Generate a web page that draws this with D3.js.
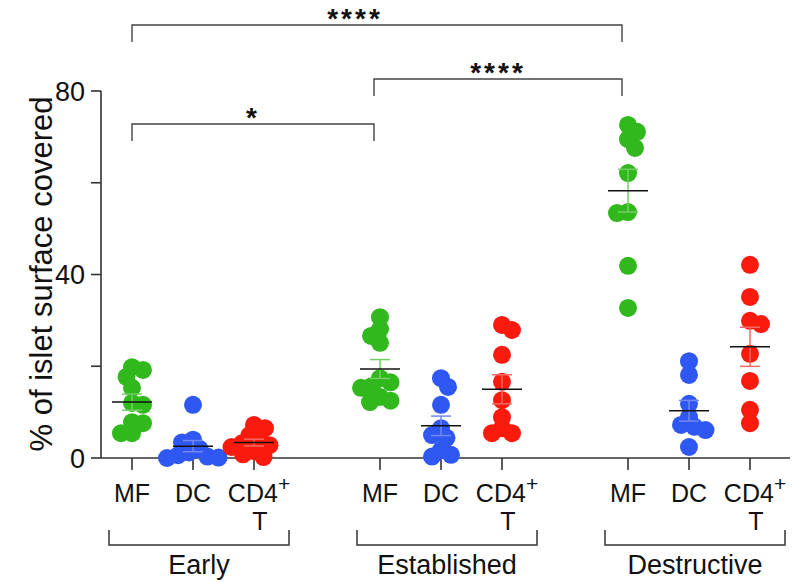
<!DOCTYPE html>
<html><head><meta charset="utf-8">
<script src="https://cdn.jsdelivr.net/npm/d3@7"></script>
<style>body{margin:0;background:#fff}svg{display:block;font-family:"Liberation Sans",Arial,Helvetica,sans-serif}</style>
</head><body><svg id="c" width="796" height="582"></svg>
<script>
// ---- data ----
const groups = ["Early", "Established", "Destructive"];
const cellTypes = ["MF", "DC", "CD4"];
const earlyMF = [19.8, 19.2, 17.7, 15.3, 12.0, 11.6, 7.8, 7.6, 5.4, 5.4];
const earlyDC = [11.6, 4.0, 3.4, 2.0, 1.2, 0.6, 0.3, 0.1, 0.0];
const earlyCD4 = [7.2, 6.5, 5.0, 4.0, 3.2, 2.8, 2.4, 1.5, 0.8, 0.2];
const establishedMF = [30.7, 28.1, 26.6, 25.1, 17.4, 16.5, 15.7, 15.3, 13.3, 12.5, 12.2];
const establishedDC = [17.4, 15.5, 11.6, 6.5, 5.0, 4.4, 1.7, 0.7, 0.3];
const establishedCD4 = [29.0, 27.9, 22.5, 16.6, 12.6, 8.9, 6.5, 5.4, 5.4];
const destructiveMF = [72.6, 71.1, 69.5, 67.6, 62.1, 53.6, 53.4, 41.9, 32.7];
const destructiveDC = [21.1, 18.1, 11.8, 8.9, 7.2, 6.8, 6.1, 2.4];
const destructiveCD4 = [42.1, 35.1, 29.9, 29.2, 22.7, 16.8, 10.5, 7.6];
const yTicks = [0, 20, 40, 60, 80];
const yTickLabels = ["0", "", "40", "", "80"];
const yLabel = "% of islet surface covered";
const comparisons = [
  {from: 0, to: 1, label: "*"},
  {from: 1, to: 2, label: "****"},
  {from: 0, to: 2, label: "****"}
];

const seriesByGroup = [
  [earlyMF, earlyDC, earlyCD4],
  [establishedMF, establishedDC, establishedCD4],
  [destructiveMF, destructiveDC, destructiveCD4]
];
const colors = ["#30b81c", "#2f57f2", "#fb1a0e"];
const barColors = ["#74cf62", "#7089f2", "#f56a62"];

// ---- layout ----
const svg = d3.select("#c");
const y = d3.scaleLinear().domain([0, 80]).range([458, 91]);
const gap = 65 / 61;
const slot = (g, c) => g * 3 + c + g * gap;
const x = d3.scaleLinear().domain([0, slot(2, 2)]).range([132, 750]);
const axisX = 101;

// y axis
svg.append("line").attr("x1", axisX).attr("x2", axisX).attr("y1", y(80)).attr("y2", y(0))
  .attr("stroke", "#333").attr("stroke-width", 1.6);
svg.selectAll(".yt").data(yTicks).join("line")
  .attr("x1", axisX - 10).attr("x2", axisX).attr("y1", d => y(d)).attr("y2", d => y(d))
  .attr("stroke", "#333").attr("stroke-width", 1.6);
svg.selectAll(".ytl").data(yTicks).join("text")
  .attr("x", axisX - 16).attr("y", d => y(d)).attr("dy", "0.36em")
  .attr("text-anchor", "end").attr("font-size", 27).attr("fill", "#111")
  .text((d, i) => yTickLabels[i]);
svg.append("text").attr("transform", `translate(52,274) rotate(-90)`)
  .attr("text-anchor", "middle").attr("font-size", 31).attr("fill", "#111").text(yLabel);

// x axis
svg.append("line").attr("x1", axisX).attr("x2", 790).attr("y1", y(0)).attr("y2", y(0))
  .attr("stroke", "#333").attr("stroke-width", 1.6);

function swarm(values, cx) {
  const pts = [];
  const D = 11;
  values.slice().sort((a, b) => b - a).forEach((v, i) => {
    const py = y(v);
    let best = 0;
    outer: for (let k = 0; k < 400; k++) {
      const s = k * 0.5;
      const cands = k === 0 ? [0] : (i % 2 ? [s, -s] : [-s, s]);
      for (const dx of cands) {
        if (pts.every(p => Math.hypot(p.x - (cx + dx), p.y - py) >= D)) { best = dx; break outer; }
      }
    }
    pts.push({x: cx + best, y: py, v});
  });
  return pts;
}

seriesByGroup.forEach((series, g) => {
  series.forEach((vals, c) => {
    const cx = x(slot(g, c));
    svg.append("line").attr("x1", cx).attr("x2", cx).attr("y1", y(0)).attr("y2", y(0) + 12)
      .attr("stroke", "#333").attr("stroke-width", 1.6);
    const pts = swarm(vals, cx);
    svg.append("g").selectAll("circle").data(pts).join("circle")
      .attr("cx", d => d.x).attr("cy", d => d.y).attr("r", 9).attr("fill", colors[c]);
    const m = d3.mean(vals);
    const sem = d3.deviation(vals) / Math.sqrt(vals.length);
    const eb = svg.append("g").attr("stroke", barColors[c]).attr("stroke-width", 1.5);
    eb.append("line").attr("x1", cx).attr("x2", cx).attr("y1", y(m + sem)).attr("y2", y(m - sem));
    [m + sem, m - sem].forEach(v => eb.append("line").attr("x1", cx - 10).attr("x2", cx + 10)
      .attr("y1", y(v)).attr("y2", y(v)));
    svg.append("line").attr("x1", cx - 20).attr("x2", cx + 20).attr("y1", y(m)).attr("y2", y(m))
      .attr("stroke", "#111").attr("stroke-width", 1.5);
    const t = svg.append("text").attr("x", c === 2 ? cx + 5 : cx).attr("y", 502)
      .attr("text-anchor", "middle").attr("font-size", 25).attr("fill", "#111");
    t.append("tspan").text(cellTypes[c]);
    if (c === 2) {
      t.append("tspan").attr("font-size", 21).attr("dy", -11).text("+");
      svg.append("text").attr("x", cx + 6).attr("y", 530).attr("text-anchor", "middle")
        .attr("font-size", 25).attr("fill", "#111").text("T");
    }
  });
  const gc = x(slot(g, 1)) + 6;
  svg.append("path").attr("d", `M${gc - 90},530V545H${gc + 90}V530`)
    .attr("fill", "none").attr("stroke", "#333").attr("stroke-width", 1.5);
  svg.append("text").attr("x", gc).attr("y", 574).attr("text-anchor", "middle")
    .attr("font-size", 27).attr("fill", "#111").text(groups[g]);
});

// significance brackets
const levels = [124, 79, 25];
comparisons.forEach((cmp, i) => {
  const x1 = x(slot(cmp.from, 0)) - (cmp.from > 0 ? 6 : 0);
  const x2 = x(slot(cmp.to, 0)) - (cmp.to > 0 ? 6 : 0);
  const ly = levels[i];
  svg.append("path").attr("d", `M${x1},${ly + 17}V${ly}H${x2}V${ly + 17}`)
    .attr("fill", "none").attr("stroke", "#444").attr("stroke-width", 1.4);
  svg.append("text").attr("x", (x1 + x2) / 2 + (i === 2 ? -22 : 0)).attr("y", ly + 3)
    .attr("text-anchor", "middle").attr("font-size", 28).attr("font-weight", "bold")
    .attr("letter-spacing", 3).attr("fill", "#111").text(cmp.label);
});
</script></body></html>
